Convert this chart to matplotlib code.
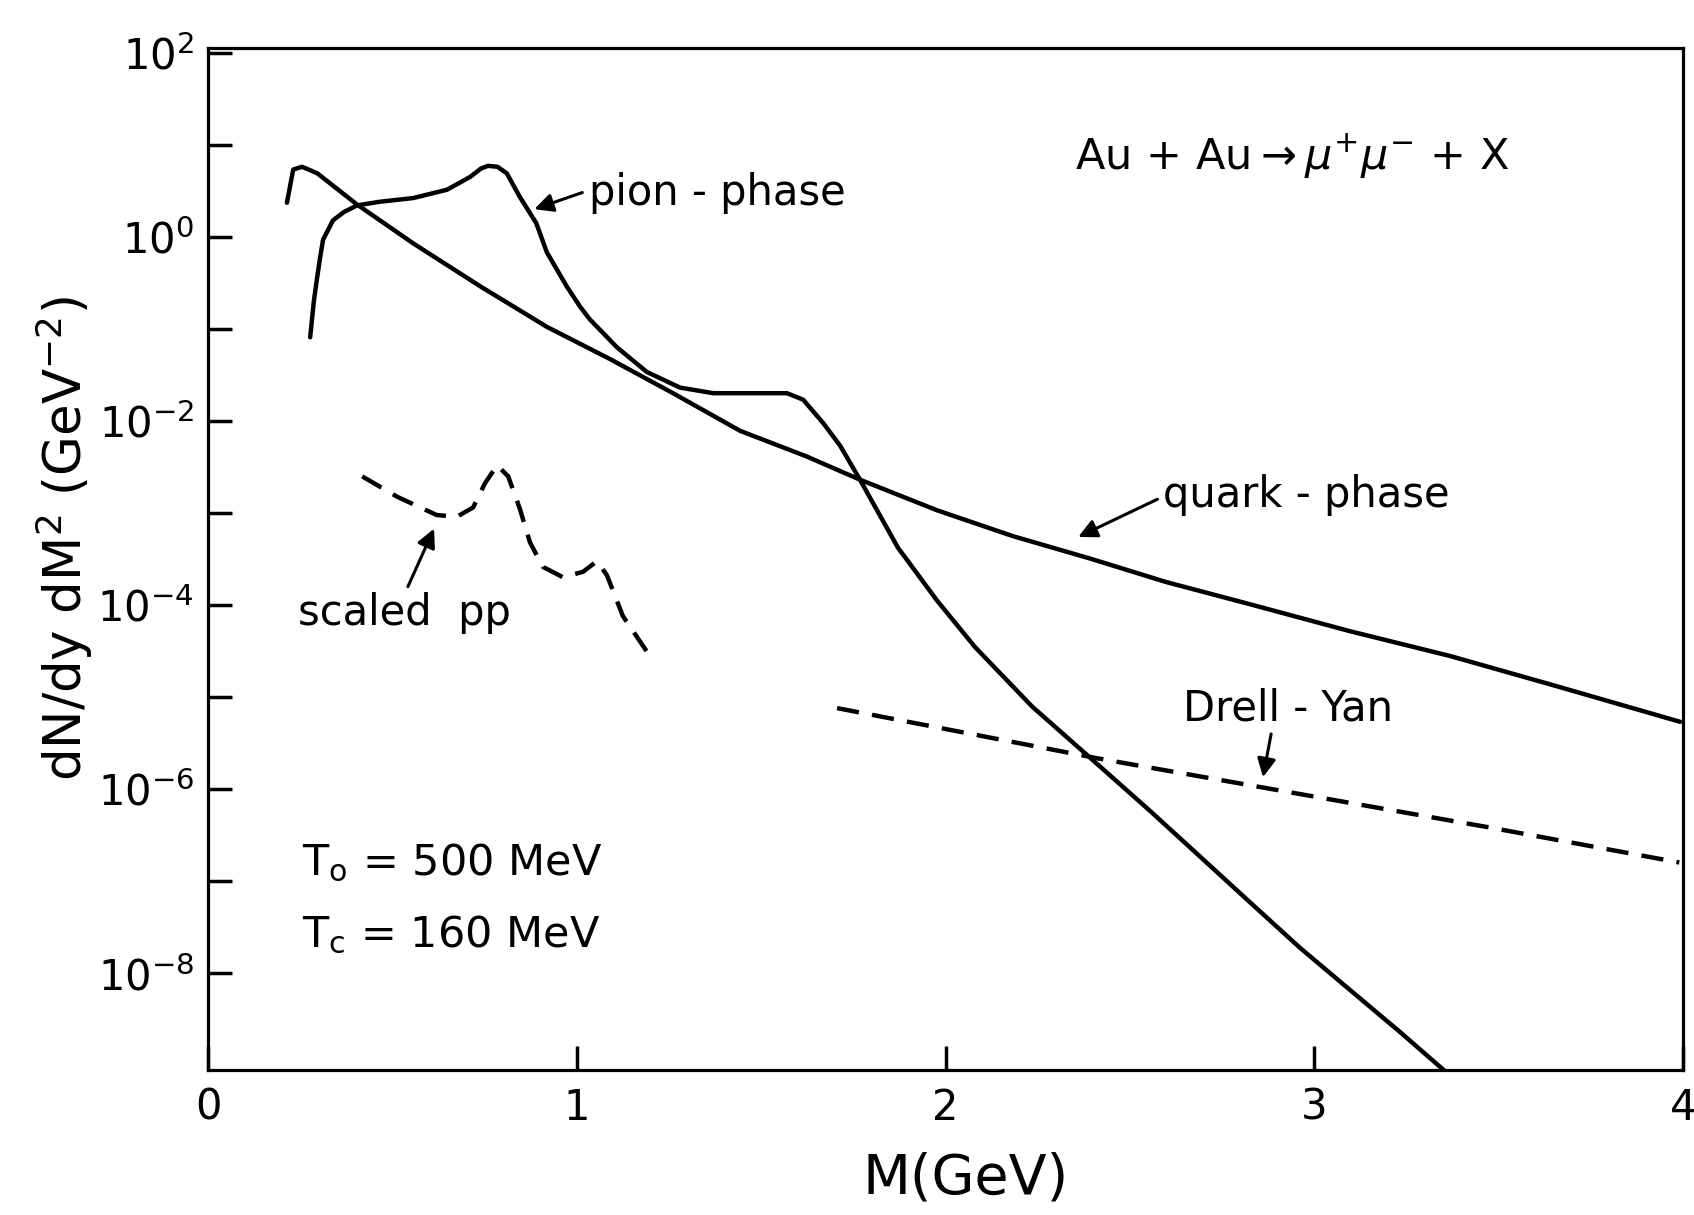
import numpy as np
import matplotlib
matplotlib.use('Agg')
import matplotlib.pyplot as plt
from matplotlib.ticker import FixedLocator, NullFormatter

# quark-phase dimuon yield (solid)
quark_m = [0.214, 0.231, 0.255, 0.296, 0.404, 0.556, 0.738, 0.919, 1.090, 1.261,
           1.443, 1.624, 1.768, 1.977, 2.183, 2.392, 2.598, 2.826, 3.097, 3.368,
           3.639, 3.992]
quark_y = [2.34, 5.37, 5.75, 4.9, 2.24, 0.85, 0.29, 0.105, 0.047, 0.020,
           7.8e-3, 4.1e-3, 2.3e-3, 1.07e-3, 5.6e-4, 3.2e-4, 1.78e-4, 1.02e-4, 5.2e-5, 2.8e-5,
           1.38e-5, 5.4e-6]

# pion-phase dimuon yield (solid)
pion_m = [0.277, 0.287, 0.295, 0.303, 0.312, 0.339, 0.369, 0.404, 0.466, 0.556,
          0.648, 0.711, 0.740, 0.759, 0.785, 0.810, 0.846, 0.890, 0.919, 0.973,
          1.009, 1.036, 1.109, 1.190, 1.280, 1.370, 1.489, 1.570, 1.614, 1.668,
          1.714, 1.768, 1.871, 1.977, 2.080, 2.235, 2.392, 2.555, 2.690, 2.826,
          2.961, 3.097, 3.233, 3.360]
pion_y = [0.081, 0.20, 0.34, 0.56, 0.93, 1.51, 1.86, 2.19, 2.40, 2.63,
          3.24, 4.47, 5.50, 5.89, 5.75, 4.90, 2.69, 1.41, 0.676, 0.288,
          0.174, 0.126, 0.063, 0.034, 0.023, 0.020, 0.020, 0.020, 0.017, 9.5e-3,
          5.4e-3, 2.3e-3, 4.2e-4, 1.12e-4, 3.5e-5, 7.9e-6, 2.2e-6, 5.8e-7, 1.86e-7, 5.9e-8,
          1.9e-8, 6.6e-9, 2.3e-9, 8.3e-10]

# scaled pp (dashed)
pp_m = [0.418, 0.513, 0.620, 0.675, 0.719, 0.751, 0.784, 0.814, 0.846, 0.873,
        0.908, 0.963, 1.017, 1.055, 1.082, 1.125, 1.193]
pp_y = [2.5e-3, 1.5e-3, 9.5e-4, 9.1e-4, 1.15e-3, 2.1e-3, 3.3e-3, 2.5e-3, 1.1e-3, 4.8e-4,
        2.6e-4, 2.0e-4, 2.3e-4, 3.0e-4, 2.1e-4, 7.6e-5, 3.0e-5]

# Drell-Yan (dashed)
dy_m = [1.706, 2.419, 3.482, 3.990]
dy_y = [7.6e-6, 2.14e-6, 3.8e-7, 1.6e-7]

xtick_vals = [0, 1, 2, 3, 4]
xtick_labels = ['0', '1', '2', '3', '4']
ytick_major = [1e-8, 1e-6, 1e-4, 1e-2, 1e0, 1e2]
ytick_labels = [r'$10^{-8}$', r'$10^{-6}$', r'$10^{-4}$', r'$10^{-2}$', r'$10^{0}$', r'$10^{2}$']
ytick_minor = [1e-7, 1e-5, 1e-3, 1e-1, 1e1]

plt.rcParams['font.family'] = 'DejaVu Sans'
plt.rcParams['mathtext.fontset'] = 'dejavusans'

fig = plt.figure(figsize=(16.94, 12.15), dpi=100)
ax = fig.add_axes([0.1228, 0.1193, 0.8707, 0.8412])

lw = 3.2
ax.plot(quark_m, quark_y, color='k', lw=lw, solid_joinstyle='round', solid_capstyle='round')
ax.plot(pion_m, pion_y, color='k', lw=lw, solid_joinstyle='round', solid_capstyle='round')
ax.plot(pp_m, pp_y, color='k', lw=lw, linestyle=(0, (5, 3)))
ax.plot(dy_m, dy_y, color='k', lw=lw, linestyle=(0, (5, 3)))

ax.set_yscale('log')
ax.set_xlim(0, 4)
ax.set_ylim(10**-9.05, 10**2.05)

ax.set_xticks(xtick_vals)
ax.set_xticklabels(xtick_labels)
ax.yaxis.set_major_locator(FixedLocator(ytick_major))
ax.set_yticklabels(ytick_labels)
ax.yaxis.set_minor_locator(FixedLocator(ytick_minor))
ax.yaxis.set_minor_formatter(NullFormatter())

ax.tick_params(axis='both', which='both', direction='in', length=17, width=2.5)
ax.tick_params(axis='x', labelsize=30, pad=12)
ax.tick_params(axis='y', labelsize=30, pad=10)
for sp in ax.spines.values():
    sp.set_linewidth(2.3)

# labels and arrows
fs = 30
arrow = dict(arrowstyle='-|>', color='k', lw=2.2, mutation_scale=28, shrinkA=0, shrinkB=0)

ax.text(1.033, 10**0.35, 'pion - phase', fontsize=fs, va='baseline')
ax.annotate('', xy=(0.885, 10**0.30), xytext=(1.015, 10**0.48), arrowprops=arrow)

ax.text(2.59, 10**-2.94, 'quark - phase', fontsize=fs, va='baseline')
ax.annotate('', xy=(2.36, 10**-3.26), xytext=(2.575, 10**-2.85), arrowprops=arrow)

ax.text(2.644, 10**-5.25, 'Drell - Yan', fontsize=fs, va='baseline')
ax.annotate('', xy=(2.861, 10**-5.87), xytext=(2.883, 10**-5.40), arrowprops=arrow)

ax.text(0.245, 10**-4.22, 'scaled  pp', fontsize=fs, va='baseline')
ax.annotate('', xy=(0.613, 10**-3.17), xytext=(0.542, 10**-3.80), arrowprops=arrow)

ax.text(2.351, 10**0.73, r'Au + Au$\rightarrow\mu^{+}\mu^{-}$ + X', fontsize=31, va='baseline')
ax.text(0.255, 10**-6.93, r'T$_\mathrm{o}$ = 500 MeV', fontsize=31, va='baseline')
ax.text(0.255, 10**-7.71, r'T$_\mathrm{c}$ = 160 MeV', fontsize=31, va='baseline')

fig.text(0.570, 0.030, 'M(GeV)', fontsize=40, ha='center', va='center')
fig.text(0.038, 0.557, r'dN/dy dM$^{2}$ (GeV$^{-2}$)', fontsize=37,
         rotation=90, ha='center', va='center')

fig.savefig('out.png', dpi=100)
